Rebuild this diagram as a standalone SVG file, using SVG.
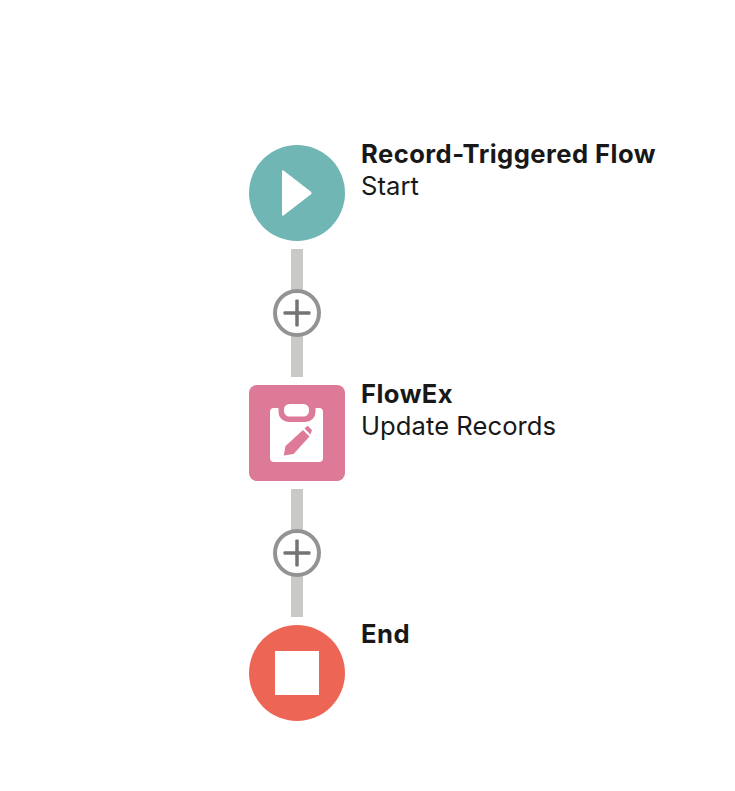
<svg xmlns="http://www.w3.org/2000/svg" width="735" height="791" viewBox="0 0 735 791">
  <style>
    .title { font: 700 25.600px Inter, "Liberation Sans", sans-serif; fill: #181818; letter-spacing: 0.450px; }
    .sub { font: 400 25.600px Inter, "Liberation Sans", sans-serif; fill: #181818; letter-spacing: 0.050px; }
    .link { fill: #c9c9c7; }
    .add-ring { fill: #fff; stroke: #939393; stroke-width: 4; }
    .add-bar { fill: #747474; }
  </style>
  <defs>
    <g id="add">
      <circle class="add-ring" r="22"/>
      <rect class="add-bar" x="-13.500" y="-1.750" width="27" height="3.500" rx="1"/>
      <rect class="add-bar" x="-1.750" y="-13.500" width="3.500" height="27" rx="1"/>
    </g>
  </defs>
  <rect width="735" height="791" fill="#fff"/>

  <g id="connectors">
    <rect class="link" x="291" y="249" width="12" height="128"/>
    <rect class="link" x="291" y="489" width="12" height="128"/>
    <use href="#add" x="297" y="313"/>
    <use href="#add" x="297" y="553"/>
  </g>

  <g id="start">
    <circle cx="297" cy="193" r="48" fill="#6fb6b4"/>
    <path d="M283.500 170.500 L311 191.800 Q312.300 193 311 194.200 L283.500 215.500 Q282 216.500 282 214.500 V171.500 Q282 169.500 283.500 170.500 Z" fill="#fff"/>
    <text class="title" x="361" y="163">Record-Triggered Flow</text>
    <text class="sub" x="361" y="195">Start</text>
  </g>

  <g id="update-records">
    <rect x="249" y="385" width="96" height="96" rx="8" fill="#dd7a97"/>
    <rect x="270" y="408" width="53" height="54" rx="4" fill="#fff"/>
    <path d="M278.500 406 H315.500 V412 A10 10 0 0 1 305.500 422 H288.500 A10 10 0 0 1 278.500 412 Z" fill="#dd7a97"/>
    <rect x="284" y="404" width="25" height="12.500" rx="5.500" fill="#fff"/>
    <path d="M283.700 455.500 L285.500 446 L303 430 L309.500 436.500 L293.500 454 Z" fill="#dd7a97"/>
    <path d="M304.500 428.500 L306.500 426.500 Q307.500 425.500 308.500 426.500 L311.500 429.500 Q312.500 430.500 311.500 431.500 L310.500 434.500 Z" fill="#dd7a97"/>
    <text class="title" x="361" y="403">FlowEx</text>
    <text class="sub" x="361" y="435">Update Records</text>
  </g>

  <g id="end">
    <circle cx="297" cy="673" r="48" fill="#ed6655"/>
    <rect x="275" y="651" width="44" height="44" fill="#fff"/>
    <text class="title" x="361" y="643">End</text>
  </g>
</svg>
